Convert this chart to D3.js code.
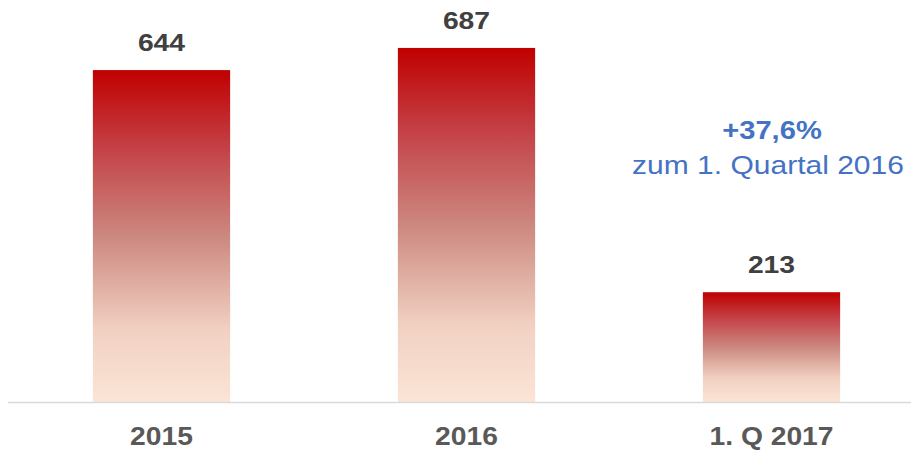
<!DOCTYPE html>
<html>
<head>
<meta charset="utf-8">
<script src="https://cdn.jsdelivr.net/npm/d3@7"></script>
<style>
  body { margin: 0; background: #fff; }
  svg { display: block; font-family: "Liberation Sans", Arial, sans-serif; }
</style>
</head>
<body>
<div id="chart"></div>
<script>
// chart data
const categories = ["2015", "2016", "1. Q 2017"];
const values = [644, 687, 213];
const noteMain = "+37,6%";
const noteSub = "zum 1. Quartal 2016";

const width = 911, height = 452;
const baseY = 402;

const svg = d3.select("#chart")
  .append("svg")
    .attr("width", width)
    .attr("height", height);

// vertical gradient, dark red on top fading to pale peach
const grad = svg.append("defs").append("linearGradient")
    .attr("id", "barGrad")
    .attr("x1", 0).attr("y1", 0)
    .attr("x2", 0).attr("y2", 1);
[["0%", "#c00000"], ["25%", "#c4454a"], ["50%", "#cc887f"],
 ["78%", "#f1d0c2"], ["100%", "#fbe5d6"]].forEach(s => {
  grad.append("stop").attr("offset", s[0]).attr("stop-color", s[1]);
});

const x = d3.scaleBand()
    .domain(categories)
    .range([9, 924])
    .paddingInner(0.55)
    .paddingOuter(0.275);

const y = d3.scaleLinear()
    .domain([0, 780])
    .range([baseY, 0]);

// the source text is a bit wider than Liberation Sans, so stretch it
function stretched(sel, cx, cy, k) {
  sel.attr("text-anchor", "middle")
     .attr("transform", "translate(" + cx + "," + cy + ") scale(" + k + ",1)");
}

// bars
svg.selectAll("rect.bar")
  .data(values)
  .enter()
  .append("rect")
    .attr("class", "bar")
    .attr("x", (d, i) => x(categories[i]))
    .attr("y", d => y(d))
    .attr("width", x.bandwidth())
    .attr("height", d => baseY - y(d))
    .style("fill", "url(#barGrad)");

// baseline
svg.append("line")
    .attr("x1", 8).attr("x2", width)
    .attr("y1", baseY + 0.5).attr("y2", baseY + 0.5)
    .attr("stroke", "#d9d9d9")
    .attr("stroke-width", 1.5);

// value labels
svg.selectAll("text.val")
  .data(values)
  .enter()
  .append("text")
    .attr("class", "val")
    .each(function(d, i) {
      stretched(d3.select(this), x(categories[i]) + x.bandwidth() / 2, y(d) - 19, 1.18);
    })
    .style("font-size", "24px")
    .style("font-weight", "bold")
    .style("fill", "#404040")
    .text(d => d);

// category labels
svg.selectAll("text.cat")
  .data(categories)
  .enter()
  .append("text")
    .attr("class", "cat")
    .each(function(d) {
      stretched(d3.select(this), x(d) + x.bandwidth() / 2, 445, 1.13);
    })
    .style("font-size", "25px")
    .style("font-weight", "bold")
    .style("fill", "#595959")
    .text(d => d);

// growth note
svg.append("text")
    .call(stretched, 772, 139, 1.12)
    .style("font-size", "26px")
    .style("font-weight", "bold")
    .style("fill", "#4472c4")
    .text(noteMain);

svg.append("text")
    .call(stretched, 768, 174, 1.2)
    .style("font-size", "25px")
    .style("fill", "#4472c4")
    .text(noteSub);
</script>
</body>
</html>
